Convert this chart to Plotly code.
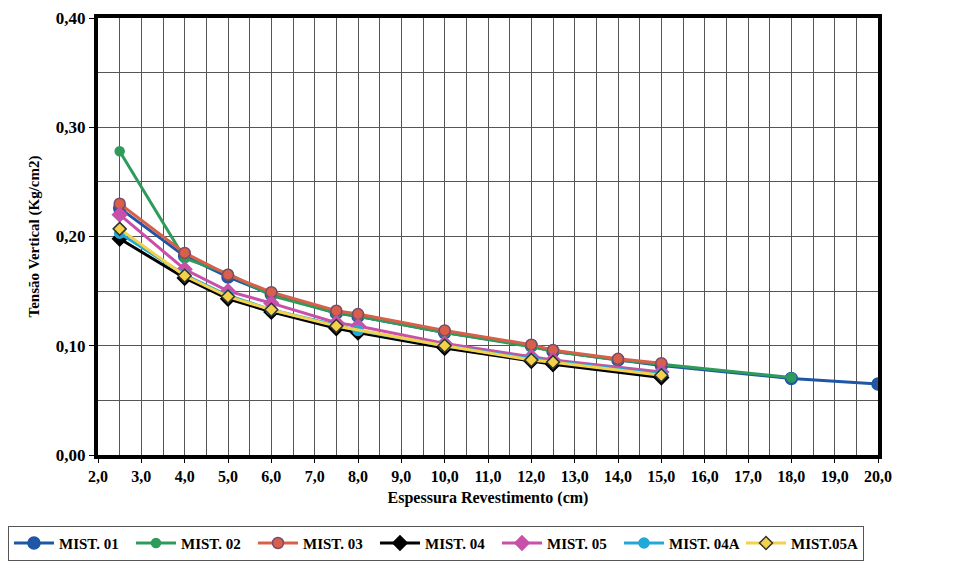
import plotly.graph_objects as go

# ---- data ----
x_01 = [2.5, 4.0, 5.0, 6.0, 7.5, 8.0, 10.0, 12.0, 12.5, 14.0, 15.0, 18.0, 20.0]
y_01 = [0.226, 0.182, 0.163, 0.147, 0.130, 0.127, 0.112, 0.100, 0.095, 0.087, 0.082, 0.070, 0.065]

x_02 = [2.5, 4.0, 5.0, 6.0, 7.5, 8.0, 10.0, 12.0, 12.5, 14.0, 15.0, 18.0]
y_02 = [0.278, 0.180, 0.166, 0.146, 0.130, 0.127, 0.112, 0.099, 0.095, 0.087, 0.083, 0.071]

x_03 = [2.5, 4.0, 5.0, 6.0, 7.5, 8.0, 10.0, 12.0, 12.5, 14.0, 15.0]
y_03 = [0.230, 0.185, 0.165, 0.149, 0.132, 0.129, 0.114, 0.101, 0.096, 0.088, 0.084]

x_04 = [2.5, 4.0, 5.0, 6.0, 7.5, 8.0, 10.0, 12.0, 12.5, 15.0]
y_04 = [0.198, 0.162, 0.143, 0.131, 0.116, 0.112, 0.098, 0.086, 0.083, 0.071]

x_05 = [2.5, 4.0, 5.0, 6.0, 7.5, 8.0, 10.0, 12.0, 12.5, 15.0]
y_05 = [0.220, 0.170, 0.150, 0.139, 0.121, 0.118, 0.102, 0.090, 0.087, 0.076]

x_04a = [2.5, 4.0, 5.0, 6.0, 8.0, 10.0, 12.0, 15.0]
y_04a = [0.203, 0.165, 0.146, 0.133, 0.114, 0.100, 0.088, 0.074]

x_05a = [2.5, 4.0, 5.0, 6.0, 7.5, 10.0, 12.0, 12.5, 15.0]
y_05a = [0.207, 0.164, 0.145, 0.133, 0.118, 0.100, 0.087, 0.085, 0.073]

series = [
    ("MIST. 01", x_01, y_01, "#1F56A6", "circle", 12, "#1F56A6"),
    ("MIST. 02", x_02, y_02, "#2E9B5B", "circle", 9, "#2E9B5B"),
    ("MIST. 03", x_03, y_03, "#D8604A", "circle", 11, "#7A4A6A"),
    ("MIST. 04", x_04, y_04, "#000000", "diamond", 11, "#000000"),
    ("MIST. 05", x_05, y_05, "#C850A8", "diamond", 11, "#C850A8"),
    ("MIST. 04A", x_04a, y_04a, "#22A8D8", "circle", 10, "#22A8D8"),
    ("MIST.05A", x_05a, y_05a, "#F2D24A", "diamond", 10, "#333333"),
]

fig = go.Figure()
for name, xs, ys, col, sym, sz, lc in series:
    fig.add_trace(go.Scatter(
        x=xs, y=ys, name=name, mode="lines+markers",
        line=dict(color=col, width=3),
        marker=dict(symbol=sym, size=sz, color=col, line=dict(color=lc, width=1.5)),
    ))

font_serif = "Liberation Serif, Times New Roman, serif"
fig.update_layout(
    width=966, height=566,
    margin=dict(l=98, r=88, t=18, b=111, autoexpand=False),
    paper_bgcolor="white", plot_bgcolor="white",
    separators=",.",
    font=dict(family=font_serif, size=15, color="black"),
    showlegend=True,
    legend=dict(
        orientation="h",
        x=-0.1154, xanchor="left", y=-0.162, yanchor="top",
        bordercolor="#555555", borderwidth=1, bgcolor="white",
        font=dict(family=font_serif, size=15, color="black", weight="bold"),
        itemwidth=40, entrywidth=67, tracegroupgap=0,
    ),
    xaxis=dict(
        range=[2.0, 20.0], dtick=1, tick0=2, tickformat=".1f",
        showgrid=True, gridcolor="#555555", gridwidth=1,
        minor=dict(dtick=0.5, showgrid=True, gridcolor="#555555", gridwidth=1),
        showline=True, linecolor="black", linewidth=4, mirror=True,
        ticks="outside", ticklen=4, tickcolor="black",
        tickfont=dict(family=font_serif, size=16, weight="bold"),
        title=dict(text="Espessura Revestimento (cm)", standoff=9,
                   font=dict(family=font_serif, size=16, weight="bold")),
        zeroline=False,
    ),
    yaxis=dict(
        range=[0.0, 0.40], dtick=0.1, tick0=0, tickformat=".2f",
        showgrid=True, gridcolor="#555555", gridwidth=1,
        minor=dict(dtick=0.05, showgrid=True, gridcolor="#555555", gridwidth=1),
        showline=True, linecolor="black", linewidth=4, mirror=True,
        ticks="outside", ticklen=5, tickcolor="black",
        tickfont=dict(family=font_serif, size=17, weight="bold"),
        title=dict(text="Tensão Vertical (Kg/cm2)", standoff=14,
                   font=dict(family=font_serif, size=15, weight="bold")),
        zeroline=False,
    ),
)

fig.write_html("out.html")
